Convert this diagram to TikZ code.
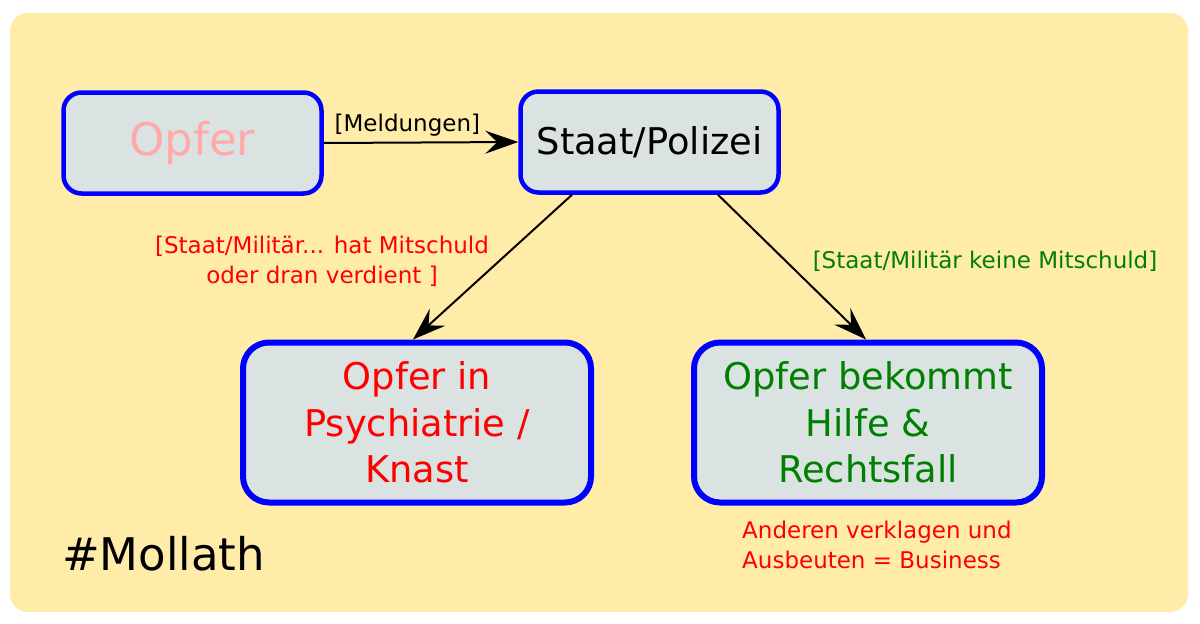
\documentclass[tikz,border=0pt]{standalone}
\usepackage{fontspec}
\setmainfont{DejaVu Sans}
\usetikzlibrary{arrows.meta}
\definecolor{bgyellow}{RGB}{255,236,168}
\definecolor{boxfill}{RGB}{219,227,226}
\definecolor{pinktext}{RGB}{255,170,170}
\definecolor{darkgreen}{RGB}{0,128,0}
\tikzset{
  smallbox/.style={draw=blue, line width=4.5pt, fill=boxfill, rounded corners=18pt,
    minimum width=258pt, minimum height=101pt, inner sep=0pt, align=center,
    font=\fontsize{36.8}{46.5}\selectfont},
  bigbox/.style={draw=blue, line width=6pt, fill=boxfill, rounded corners=26pt,
    minimum width=348pt, minimum height=160pt, inner sep=0pt, align=center,
    font=\fontsize{36.8}{46.5}\selectfont},
  conn/.style={line width=2pt, -{Stealth[length=33pt,width=23pt,inset=12pt]}},
  lbl/.style={font=\fontsize{23}{30}\selectfont, inner sep=0pt, align=center}
}
\begin{document}
\begin{tikzpicture}[x=1pt,y=-1pt]
\useasboundingbox (0,0) rectangle (1200,624);
\fill[white] (0,0) rectangle (1200,624);
\fill[bgyellow, rounded corners=18pt] (10,13) rectangle (1188,612);

\node[smallbox, text=pinktext, font=\fontsize{45}{50}\selectfont] (opfer) at (192.5,143) {Opfer};
\node[smallbox] (staat) at (649.5,142) {Staat/Polizei};
\node[bigbox, text=red] (psych) at (417,422.5) {Opfer in\\Psychiatrie /\\Knast};
\node[bigbox, text=darkgreen] (hilfe) at (868,422.5) {Opfer bekommt\\Hilfe \&\\Rechtsfall};

\draw[conn] (opfer.east) -- node[lbl, pos=0.43, above=5pt] (meld) {[Meldungen]} (staat.west);
\draw[conn] ([xshift=-77.5pt]staat.south) -- ([xshift=-4pt]psych.north);
\draw[conn] ([xshift=68.5pt]staat.south) -- ([xshift=-2pt]hilfe.north);

\node[lbl, text=red] (schuld) at (322,261) {[Staat/Militär... hat Mitschuld\\oder dran verdient ]};
\node[lbl, text=darkgreen] (keine) at (985,261) {[Staat/Militär keine Mitschuld]};
\node[lbl, text=red, align=left, anchor=west] (business) at (742,545) {Anderen verklagen und\\Ausbeuten = Business};
\node[inner sep=0pt, anchor=base west, font=\fontsize{45}{50}\selectfont] (moll) at (62,570) {\#Mollath};
\end{tikzpicture}
\end{document}
